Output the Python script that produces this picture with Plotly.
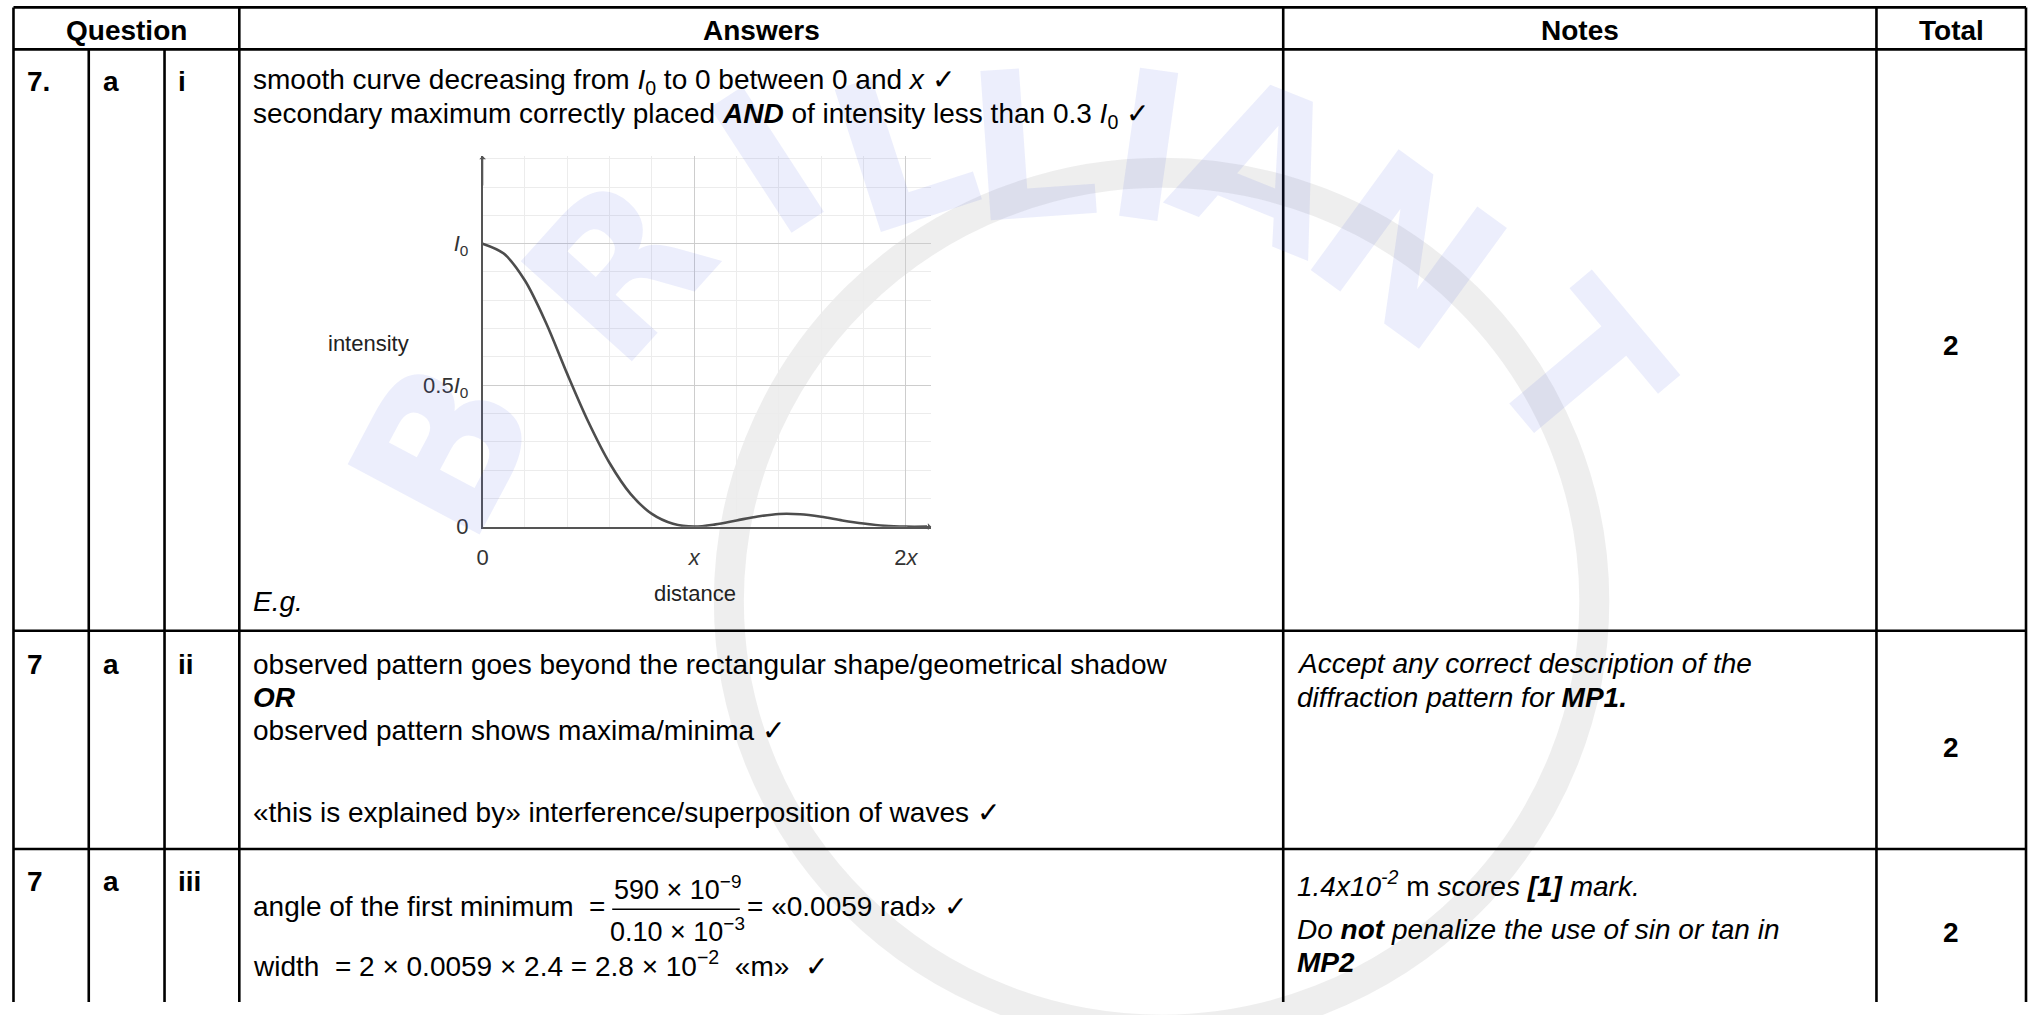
import plotly.graph_objects as go

W, H = 2031, 1015
FONT = "Liberation Sans, Arial, Helvetica, sans-serif"

# ---- chart data ----
distance = [0.0, 0.1, 0.2, 0.3, 0.4, 0.5, 0.6, 0.7, 0.8, 0.9, 1.0,
            1.1, 1.2, 1.3, 1.4, 1.5, 1.6, 1.7, 1.8, 1.9, 2.0, 2.1]
intensity = [1.0, 0.965, 0.87, 0.72, 0.54, 0.37, 0.225, 0.115, 0.045, 0.01, 0.0,
             0.008, 0.022, 0.036, 0.045, 0.044, 0.035, 0.022, 0.011, 0.003, 0.0, 0.0]
x_tickvals = [0, 1, 2]
x_ticktext = ["0", "<i>x</i>", "2<i>x</i>"]
y_tickvals = [0, 0.5, 1]
y_ticktext = ["0", "0.5<i>I</i><sub>0</sub>", "<i>I</i><sub>0</sub>"]
x_label = "distance"
y_label = "intensity"

# ---- table text ----
headers = ["Question", "Answers", "Notes", "Total"]
q_num = ["7.", "7", "7"]
q_part = ["a", "a", "a"]
q_sub = ["i", "ii", "iii"]
totals = ["2", "2", "2"]
ans_i = ["smooth curve decreasing from <i>I</i><sub>0</sub> to 0 between 0 and <i>x</i> \u2713",
         "secondary maximum correctly placed <b><i>AND</i></b> of intensity less than 0.3 <i>I</i><sub>0</sub> \u2713"]
eg = "<i>E.g.</i>"
ans_ii = ["observed pattern goes beyond the rectangular shape/geometrical shadow",
          "<b><i>OR</i></b>",
          "observed pattern shows maxima/minima \u2713",
          "\u00abthis is explained by\u00bb interference/superposition of waves \u2713"]
notes_ii = ["<i>Accept any correct description of the</i>",
            "<i>diffraction pattern for </i><b><i>MP1.</i></b>"]
ans_iii_a = "angle of the first minimum  ="
frac_num = "590 \u00d7 10<sup>\u22129</sup>"
frac_den = "0.10 \u00d7 10<sup>\u22123</sup>"
ans_iii_b = "= \u00ab0.0059 rad\u00bb \u2713"
ans_iii_c = "width  = 2 \u00d7 0.0059 \u00d7 2.4 = 2.8 \u00d7 10<sup>\u22122</sup>  \u00abm\u00bb  \u2713"
notes_iii = ["<i>1.4x10</i><sup><i>-2</i></sup> m <i>scores</i> <b><i>[1]</i></b> <i>mark.</i>",
             "<i>Do</i> <b><i>not</i></b> <i>penalize the use of sin or tan in</i>",
             "<b><i>MP2</i></b>"]
watermark_letters = ["B", "R", "I", "L", "L", "I", "A", "N", "T"]

def px(x):
    return x / W

def py(y):
    return 1 - y / H

fig = go.Figure()

fig.add_trace(go.Scatter(
    x=distance, y=intensity, mode="lines",
    line=dict(color="#4d4d4d", width=2.6, shape="spline", smoothing=0.9),
    hoverinfo="skip", showlegend=False))

X0, X1 = 478, 928
Y0, Y1 = 533.5, 158

fig.update_layout(
    width=W, height=H, autosize=False,
    margin=dict(l=0, r=0, t=0, b=0, pad=0),
    paper_bgcolor="white", plot_bgcolor="rgba(0,0,0,0)",
    showlegend=False,
    xaxis=dict(domain=[px(X0), px(X1)], range=[0, 2.12], tickmode="array",
               tickvals=x_tickvals, ticktext=x_ticktext, ticks="", ticklabelstandoff=10,
               showgrid=True, gridcolor="#cdcdcd", gridwidth=1.2, zeroline=False,
               showline=True, linecolor="#555555", linewidth=1.6,
               tickfont=dict(family=FONT, size=22, color="#333333"),
               minor=dict(tickmode="linear", tick0=0, dtick=0.2, showgrid=True,
                          gridcolor="#ececec", gridwidth=1),
               fixedrange=True),
    yaxis=dict(domain=[py(Y0), py(Y1)], range=[0, 1.31], tickmode="array",
               tickvals=y_tickvals, ticktext=y_ticktext, ticks="", ticklabelstandoff=8,
               showgrid=True, gridcolor="#cdcdcd", gridwidth=1.2, zeroline=False,
               showline=True, linecolor="#555555", linewidth=1.6,
               tickfont=dict(family=FONT, size=22, color="#333333"),
               minor=dict(tickmode="linear", tick0=0, dtick=0.1, showgrid=True,
                          gridcolor="#ececec", gridwidth=1),
               fixedrange=True),
)

shapes = []
ann = []

# ---- watermark (ring + faint lettering) ----
shapes.append(dict(type="circle", xref="paper", yref="paper",
                   x0=px(1159 - 434), x1=px(1159 + 434), y0=py(609 + 434), y1=py(609 - 434),
                   line=dict(color="rgba(185,185,185,0.24)", width=30), layer="below"))
wm_pos = [(440, 455, -62), (615, 272, -48), (765, 165, -33), (900, 152, -18), (1030, 148, -4),
          (1145, 150, 8), (1260, 168, 22), (1405, 255, 36), (1575, 378, 50)]
for (wx, wy, wa), letter in zip(wm_pos, watermark_letters):
    ann.append(dict(x=px(wx), y=py(wy), xref="paper", yref="paper", text="<b>" + letter + "</b>",
                    showarrow=False, xanchor="center", yanchor="middle", textangle=wa,
                    font=dict(family="DejaVu Sans, sans-serif", size=205,
                              color="rgba(70,90,230,0.10)")))

# ---- table lines ----
LW = 2.6
def hline(y, xa, xb):
    shapes.append(dict(type="line", xref="paper", yref="paper", x0=px(xa), x1=px(xb),
                       y0=py(y), y1=py(y), line=dict(color="black", width=LW)))
def vline(x, ya, yb):
    shapes.append(dict(type="line", xref="paper", yref="paper", x0=px(x), x1=px(x),
                       y0=py(ya), y1=py(yb), line=dict(color="black", width=LW)))

L, R = 7.5, 2026
TOP, HB = 7.5, 50
hline(TOP, L, R)
hline(HB, L, R)
hline(639, L, R)
hline(860, L, R)
vline(L, TOP, H)
vline(83, HB, H)
vline(159, HB, H)
vline(234, TOP, H)
vline(1281, TOP, H)
vline(1876, TOP, H)
vline(R, TOP, H)

def txt(x, y, s, size=28, anchor="left", color="black"):
    ann.append(dict(x=px(x), y=py(y), xref="paper", yref="paper", text=s, showarrow=False,
                    xanchor=anchor, yanchor="middle",
                    font=dict(family=FONT, size=size, color=color)))

# headers
hdr_x = [(L + 234) / 2, (234 + 1281) / 2, (1281 + 1876) / 2, (1876 + R) / 2]
for hx, h in zip(hdr_x, headers):
    txt(hx, 31, "<b>" + h + "</b>", anchor="center")

# question columns
row_top_y = [83, 673, 893]
for yy, a, b, c in zip(row_top_y, q_num, q_part, q_sub):
    txt(19, yy, "<b>" + a + "</b>")
    txt(95, yy, "<b>" + b + "</b>")
    txt(171, yy, "<b>" + c + "</b>")

# totals
for yy, t in zip([350, 757, 945], totals):
    txt((1876 + R) / 2, yy, "<b>" + t + "</b>", anchor="center")

AX = 246
NX = 1293
# row i
txt(AX, 83, ans_i[0])
txt(AX, 117, ans_i[1])
txt(AX, 609, eg)
# row ii
for yy, s in zip([673, 707, 740, 823], ans_ii):
    txt(AX, yy, s)
for yy, s in zip([672, 707], notes_ii):
    txt(NX, yy, s)
# row iii
txt(AX, 918, ans_iii_a)
txt(673, 900, frac_num, size=27, anchor="center")
txt(673, 942, frac_den, size=27, anchor="center")
shapes.append(dict(type="line", xref="paper", yref="paper", x0=px(608), x1=px(736),
                   y0=py(921), y1=py(921), line=dict(color="black", width=1.6)))
txt(741, 918, ans_iii_b)
txt(AX, 977, ans_iii_c)
for yy, s in zip([895, 942, 975], notes_iii):
    txt(NX, yy, s)

# chart labels
txt(364, 348, y_label, size=22, anchor="center", color="#222222")
txt(691, 601, x_label, size=22, anchor="center", color="#222222")

# axis arrowheads
ann.append(dict(x=0, y=1.31, xref="x", yref="y", ax=0, ay=1.2, axref="x", ayref="y",
                showarrow=True, arrowhead=1, arrowsize=0.8, arrowwidth=1.4,
                arrowcolor="#555555", text=""))
ann.append(dict(x=2.12, y=0, xref="x", yref="y", ax=2.0, ay=0, axref="x", ayref="y",
                showarrow=True, arrowhead=1, arrowsize=0.8, arrowwidth=1.4,
                arrowcolor="#555555", text=""))

fig.update_layout(shapes=shapes, annotations=ann)

fig.write_html("out.html", config={"displayModeBar": False},
               post_script="document.body.style.margin='0px';")
